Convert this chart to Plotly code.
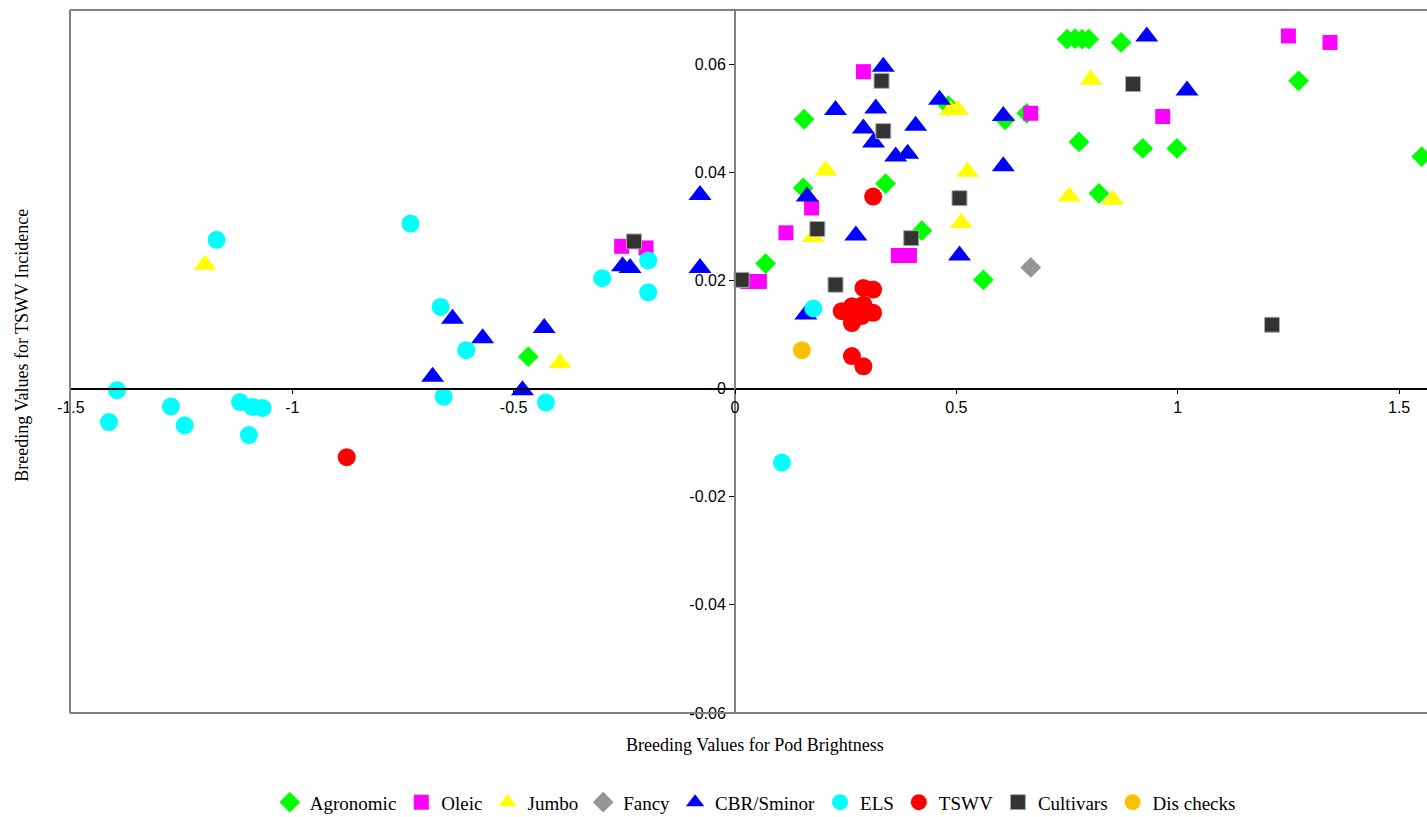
import plotly.graph_objects as go

# ---------------- data ----------------
agro_x = [-0.467, 0.069, 0.154, 0.156, 0.340, 0.422, 0.482, 0.561, 0.610, 0.659, 0.750, 0.768, 0.784, 0.799, 0.872, 0.777, 0.822, 0.921, 0.998, 1.273, 1.551]
agro_y = [0.0059, 0.0231, 0.0371, 0.0498, 0.0379, 0.0292, 0.0523, 0.0201, 0.0497, 0.0509, 0.0646, 0.0647, 0.0646, 0.0646, 0.0640, 0.0456, 0.0361, 0.0444, 0.0444, 0.0569, 0.0429]

oleic_x = [-0.256, -0.201, 0.029, 0.055, 0.115, 0.173, 0.290, 0.369, 0.394, 0.668, 0.966, 1.250, 1.344]
oleic_y = [0.0263, 0.0260, 0.0198, 0.0198, 0.0288, 0.0334, 0.0586, 0.0246, 0.0246, 0.0509, 0.0503, 0.0652, 0.0640]

jumbo_x = [-1.197, -0.395, 0.177, 0.205, 0.487, 0.503, 0.511, 0.525, 0.755, 0.804, 0.853]
jumbo_y = [0.0229, 0.0047, 0.0280, 0.0403, 0.0515, 0.0515, 0.0306, 0.0401, 0.0355, 0.0571, 0.0349]

fancy_x = [0.668]
fancy_y = [0.0224]

cbr_x = [-0.683, -0.638, -0.570, -0.480, -0.431, -0.254, -0.237, -0.079, -0.079, 0.160, 0.163, 0.227, 0.273, 0.290, 0.313, 0.318, 0.335, 0.363, 0.390, 0.408, 0.462, 0.507, 0.606, 0.606, 0.930, 1.021]
cbr_y = [0.0022, 0.0129, 0.0093, -0.0003, 0.0112, 0.0226, 0.0223, 0.0223, 0.0358, 0.0137, 0.0355, 0.0515, 0.0283, 0.0481, 0.0455, 0.0518, 0.0595, 0.0429, 0.0434, 0.0486, 0.0534, 0.0246, 0.0504, 0.0411, 0.0651, 0.0551]

els_x = [-1.414, -1.396, -1.274, -1.243, -1.171, -1.118, -1.098, -1.090, -1.067, -0.733, -0.665, -0.658, -0.607, -0.427, -0.300, -0.196, -0.196, 0.106, 0.177]
els_y = [-0.0062, -0.0003, -0.0033, -0.0068, 0.0275, -0.0025, -0.0086, -0.0034, -0.0036, 0.0305, 0.0151, -0.0015, 0.0071, -0.0026, 0.0204, 0.0237, 0.0178, -0.0137, 0.0148]

tswv_x = [-0.877, 0.312, 0.290, 0.312, 0.241, 0.264, 0.290, 0.312, 0.264, 0.286, 0.264, 0.290]
tswv_y = [-0.0127, 0.0355, 0.0186, 0.0183, 0.0143, 0.0152, 0.0155, 0.0140, 0.0121, 0.0134, 0.0060, 0.0041]

cult_x = [-0.228, 0.015, 0.186, 0.227, 0.331, 0.335, 0.398, 0.507, 0.899, 1.213]
cult_y = [0.0272, 0.0201, 0.0295, 0.0192, 0.0569, 0.0476, 0.0278, 0.0352, 0.0563, 0.0118]

dis_x = [0.151]
dis_y = [0.0071]

x_tickvals = [-1.5, -1, -0.5, 0, 0.5, 1, 1.5]
x_ticktext = ["-1.5", "-1", "-0.5", "0", "0.5", "1", "1.5"]
y_tickvals = [-0.06, -0.04, -0.02, 0, 0.02, 0.04, 0.06]
y_ticktext = ["-0.06", "-0.04", "-0.02", "0", "0.02", "0.04", "0.06"]

x_range = [-1.502, 1.563]
y_range = [-0.06, 0.07]

# ---------------- figure ----------------
series = [
    ("Agronomic", agro_x, agro_y, "diamond", "#00FF00", 16, None),
    ("Oleic", oleic_x, oleic_y, "square", "#FF00FF", 15, None),
    ("Jumbo", jumbo_x, jumbo_y, "triangle-up", "#FFFF00", 20, None),
    ("Fancy", fancy_x, fancy_y, "diamond", "#969696", 16, None),
    ("CBR/Sminor", cbr_x, cbr_y, "triangle-up", "#0000FF", 20, None),
    ("ELS", els_x, els_y, "circle", "#00FFFF", 18, None),
    ("TSWV", tswv_x, tswv_y, "circle", "#FF0000", 18, None),
    ("Cultivars", cult_x, cult_y, "square", "#333333", 15, "#AAAAAA"),
    ("Dis checks", dis_x, dis_y, "circle", "#FFC000", 18, None),
]

fig = go.Figure()
for name, xs, ys, sym, col, sz, lc in series:
    fig.add_trace(go.Scatter(
        x=xs, y=ys, mode="markers", name=name,
        marker=dict(symbol=sym, color=col, size=sz,
                    line=dict(width=1 if lc else 0, color=lc if lc else col)),
    ))

xpos = (0 - y_range[0]) / (y_range[1] - y_range[0])
ypos = (0 - x_range[0]) / (x_range[1] - x_range[0])

tickfont = dict(family="Liberation Sans, Arial", size=16, color="black")
serif = "Liberation Serif, Times New Roman"

fig.update_layout(
    width=1427, height=817,
    margin=dict(l=70, r=0, t=10, b=104, autoexpand=False),
    paper_bgcolor="white", plot_bgcolor="white",
    showlegend=True,
    legend=dict(orientation="h", x=0.505, xanchor="center", y=-0.127, yanchor="middle",
                font=dict(family=serif, size=19, color="black"),
                itemwidth=30, tracegroupgap=0),
    xaxis=dict(range=x_range, anchor="free", position=xpos,
               showgrid=False, zeroline=False,
               showline=True, linecolor="black", linewidth=1.5,
               ticks="outside", ticklen=5, tickcolor="black",
               tickvals=x_tickvals, ticktext=x_ticktext, tickfont=tickfont),
    yaxis=dict(range=y_range, anchor="free", position=ypos,
               showgrid=False, zeroline=False,
               showline=True, linecolor="#808080", linewidth=2,
               ticks="outside", ticklen=5, tickcolor="black",
               tickvals=y_tickvals, ticktext=y_ticktext, tickfont=tickfont),
    shapes=[
        dict(type="line", xref="paper", yref="paper", x0=0, x1=0, y0=0, y1=1,
             line=dict(color="#808080", width=2)),
        dict(type="line", xref="paper", yref="paper", x0=0, x1=1, y0=1, y1=1,
             line=dict(color="#808080", width=2)),
        dict(type="line", xref="paper", yref="paper", x0=0, x1=1, y0=0, y1=0,
             line=dict(color="#808080", width=2)),
    ],
    annotations=[
        dict(text="Breeding Values for Pod Brightness", xref="paper", yref="paper",
             x=0.505, y=-0.046, xanchor="center", yanchor="middle", showarrow=False,
             font=dict(family=serif, size=18, color="black")),
        dict(text="Breeding Values for TSWV Incidence", xref="paper", yref="paper",
             x=-0.036, y=0.5227, xanchor="center", yanchor="middle", showarrow=False, textangle=-90,
             font=dict(family=serif, size=18, color="black")),
    ],
)

fig.write_html("out.html")
